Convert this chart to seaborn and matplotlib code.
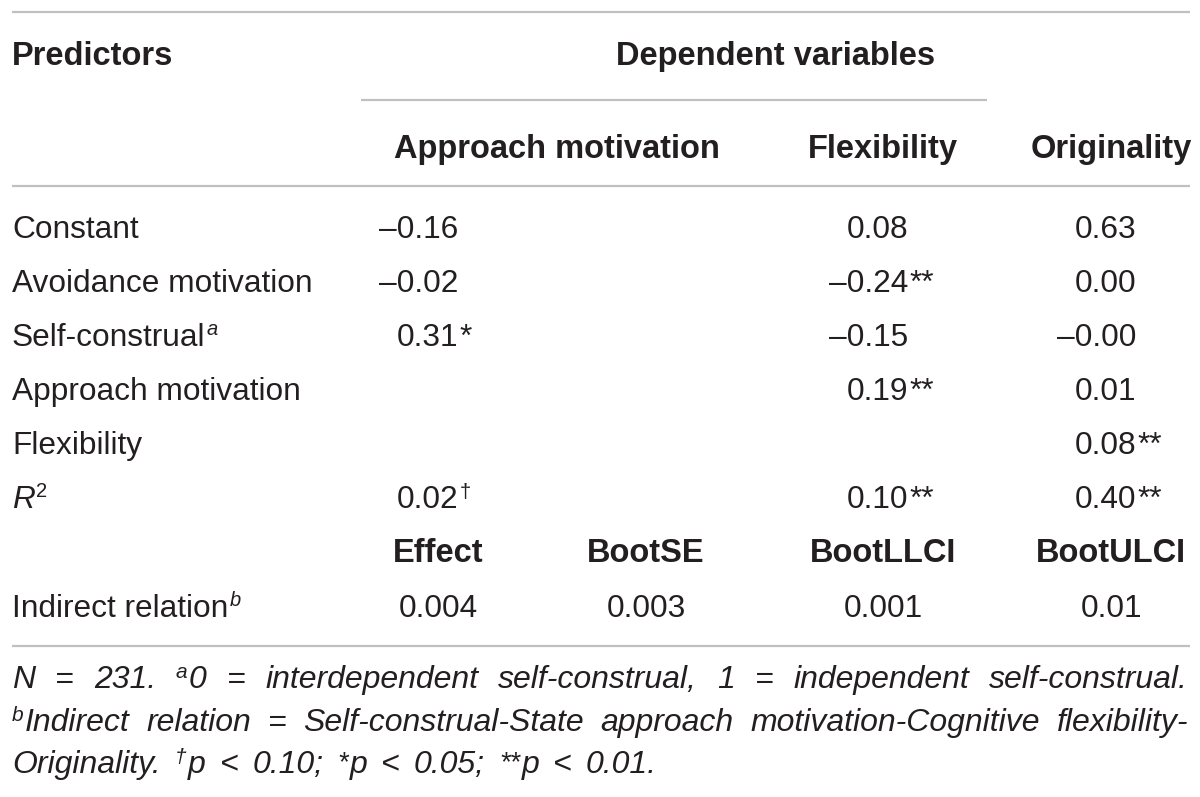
import matplotlib
matplotlib.use("Agg")
import matplotlib.pyplot as plt
import seaborn as sns

# table content
pred_labels = ["Constant", "Avoidance motivation", "Self-construal",
               "Approach motivation", "Flexibility", "R"]
pred_sups = ["", "", "a", "", "", "2"]
pred_italic = [False, False, False, False, False, True]

dv_names = ["Approach motivation", "Flexibility", "Originality"]
approach_vals = [-0.16, -0.02, 0.31, None, None, 0.02]
approach_sig = ["", "", "*", "", "", "†"]
flex_vals = [0.08, -0.24, -0.15, 0.19, None, 0.10]
flex_sig = ["", "**", "", "**", "", "**"]
orig_vals = [0.63, 0.00, -0.0, 0.01, 0.08, 0.40]
orig_sig = ["", "", "", "", "**", "**"]

boot_names = ["Effect", "BootSE", "BootLLCI", "BootULCI"]
indirect_vals = [0.004, 0.003, 0.001, 0.01]

note_lines = [
    [["N"], ["="], ["231."], ["^a", "0"], ["="], ["interdependent"],
     ["self-construal,"], ["1"], ["="], ["independent"], ["self-construal."]],
    [["^b", "Indirect"], ["relation"], ["="], ["Self-construal-State"],
     ["approach"], ["motivation-Cognitive"], ["flexibility-"]],
    [["Originality."], ["^†", "p"], ["<"], ["0.10;"], ["^*", "p"], ["<"],
     ["0.05;"], ["^**", "p"], ["<"], ["0.01."]],
]

INK = "#231f20"
RULE = "#c0c0c0"
BODY = 22.8
HEAD = 23.5
SUP = 14.5
SUP_NOTE = 15

sns.set_theme(style="white")
plt.rcParams["font.family"] = ["Liberation Sans", "DejaVu Sans"]

fig = plt.figure(figsize=(12, 7.97), dpi=100)
ax = fig.add_axes([0, 0, 1, 1])
ax.set_xlim(0, 1200)
ax.set_ylim(797, 0)
ax.axis("off")
renderer = fig.canvas.get_renderer()


def make_text(x, y, s, size=BODY, style="normal", weight="normal", rise=0):
    return ax.text(x, y - rise, s, fontsize=size, fontstyle=style,
                   fontweight=weight, color=INK, va="baseline", ha="left")


def measure(runs):
    total = 0.0
    for s, kw in runs:
        t = make_text(0, 0, s, **kw)
        total += t.get_window_extent(renderer).width + 1.5
        t.remove()
    return total - 1.5


def place(x, y, runs, ha="left"):
    width = measure(runs)
    if ha == "center":
        x -= width / 2
    elif ha == "right":
        x -= width
    for s, kw in runs:
        t = make_text(x, y, s, **kw)
        x += t.get_window_extent(renderer).width + 1.5
    return width


def fmt(v):
    return f"{v:.2f}".replace("-", "\u2013")


def note_runs(words, size):
    out = []
    for w in words:
        runs = []
        for part in w:
            if part.startswith("^*"):
                # asterisks already sit high in the glyph box
                runs.append((part[1:], {"size": size * 0.85, "rise": 3,
                                        "style": "italic"}))
            elif part.startswith("^"):
                runs.append((part[1:], {"size": SUP_NOTE, "rise": 10,
                                        "style": "italic"}))
            else:
                runs.append((part, {"size": size, "style": "italic"}))
        out.append(runs)
    return out


# rules
ax.hlines([12, 186, 646], 12, 1190, color=RULE, lw=1.6)
ax.hlines(100, 361, 987, color=RULE, lw=1.6)

# headers
bold = {"weight": "bold", "size": HEAD}
place(12, 65, [("Predictors", bold)])
place(776, 65, [("Dependent variables", bold)], ha="center")
head_x = [557, 883, 1111]
for name, hx in zip(dv_names, head_x):
    place(hx, 158, [(name, bold)], ha="center")

# body rows
row_y = [238, 292, 346, 400, 454, 508]
col_right = [458, 908, 1136]
for i, (lab, sup, ital) in enumerate(zip(pred_labels, pred_sups, pred_italic)):
    runs = [(lab, {"style": "italic" if ital else "normal"})]
    if sup:
        runs.append((sup, {"size": SUP, "rise": 11,
                           "style": "italic" if sup.isalpha() else "normal"}))
    place(12, row_y[i], runs)

for vals, sigs, xr in zip([approach_vals, flex_vals, orig_vals],
                          [approach_sig, flex_sig, orig_sig], col_right):
    for v, sg, y in zip(vals, sigs, row_y):
        if v is None:
            continue
        place(xr, y, [(fmt(v), {})], ha="right")
        if sg == "†":
            place(xr + 2, y, [(sg, {"size": SUP, "rise": 10})])
        elif sg:
            place(xr + 1.5, y, [(sg, {})])

# indirect effect block
boot_x = [438, 646, 883, 1111]
for name, bx in zip(boot_names, boot_x):
    place(bx, 562, [(name, bold)], ha="center")
place(12, 617, [("Indirect relation", {}),
                ("b", {"size": SUP, "rise": 11, "style": "italic"})])
for v, bx in zip(indirect_vals, boot_x):
    place(bx, 617, [(f"{v:g}", {})], ha="center")

# footnote, justified; the last line ends short of the margin
note_y = [688, 731, 773]
note_right = [1188, 1188, 657]

# pick a size at which the full lines still keep a normal word gap
note_size = 23.0
while note_size > 16:
    ok = True
    for words, right in zip(note_lines[:2], note_right[:2]):
        widths = [measure(r) for r in note_runs(words, note_size)]
        if (right - 12 - sum(widths)) / (len(words) - 1) < 11:
            ok = False
    if ok:
        break
    note_size -= 0.5

for words, y, right in zip(note_lines, note_y, note_right):
    word_runs = note_runs(words, note_size)
    widths = [measure(r) for r in word_runs]
    gap = (right - 12 - sum(widths)) / (len(words) - 1)
    x = 12
    for r, w in zip(word_runs, widths):
        place(x, y, r)
        x += w + gap

fig.savefig("out.png", dpi=100, facecolor="white")
